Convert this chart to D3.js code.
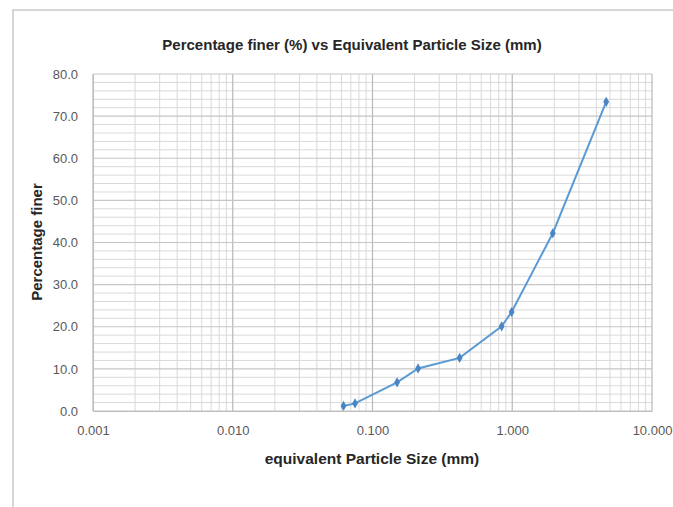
<!DOCTYPE html>
<html><head><meta charset="utf-8">
<script src="https://cdn.jsdelivr.net/npm/d3@7"></script>
<style>
body{margin:0;background:#fff;}
text{font-family:"Liberation Sans",Arial,sans-serif;}
</style></head>
<body><svg id="c" width="673" height="507"></svg>
<script>
const sizes = [0.062, 0.075, 0.15, 0.212, 0.42, 0.84, 0.99, 1.95, 4.7];
const finer = [1.2, 1.8, 6.8, 10.1, 12.6, 20.1, 23.5, 42.2, 73.4];
const xTicks = [0.001, 0.01, 0.1, 1, 10];
const yTicks = [0, 10, 20, 30, 40, 50, 60, 70, 80];
const title = "Percentage finer (%) vs Equivalent  Particle Size (mm)";
const xTitle = "equivalent Particle Size (mm)";
const yTitle = "Percentage finer";

const svg = d3.select("#c");
const m = {l:93, r:652, t:74, b:411};
const x = d3.scaleLog().domain([0.001, 10]).range([m.l, m.r]);
const y = d3.scaleLinear().domain([0, 80]).range([m.b, m.t]);

// outer frame
svg.append("path").attr("d","M13,507 L13,10 L673,10").attr("fill","none").attr("stroke","#c9c9c9").attr("stroke-width",1.5);

// minor grid
const g = svg.append("g");
const minorX = [];
for (let e=-3; e<1; e++) for (let k=2; k<10; k++) minorX.push(k*Math.pow(10,e));
g.selectAll(".mx").data(minorX).join("line")
  .attr("x1",d=>x(d)).attr("x2",d=>x(d)).attr("y1",m.t).attr("y2",m.b)
  .attr("stroke","#d9d9d9").attr("stroke-width",1);
const minorY = d3.range(0, 81, 2).filter(v=>v%10!==0);
g.selectAll(".my").data(minorY).join("line")
  .attr("x1",m.l).attr("x2",m.r).attr("y1",d=>y(d)).attr("y2",d=>y(d))
  .attr("stroke","#d9d9d9").attr("stroke-width",1);
// major grid
g.selectAll(".Mx").data(xTicks).join("line")
  .attr("x1",d=>x(d)).attr("x2",d=>x(d)).attr("y1",m.t).attr("y2",m.b)
  .attr("stroke","#b8b8b8").attr("stroke-width",1.2);
g.selectAll(".My").data(yTicks).join("line")
  .attr("x1",m.l).attr("x2",m.r).attr("y1",d=>y(d)).attr("y2",d=>y(d))
  .attr("stroke","#c6c6c6").attr("stroke-width",1.2);

// axes
const xa = svg.append("g").attr("transform",`translate(0,${m.b})`)
  .call(d3.axisBottom(x).tickValues(xTicks).tickFormat(d3.format(".3f")).tickSize(0).tickPadding(15));
xa.select(".domain").attr("stroke","#bdbdbd");
xa.selectAll("text").attr("fill","#595959").style("font-size","13px");
const ya = svg.append("g").attr("transform",`translate(${m.l},0)`)
  .call(d3.axisLeft(y).tickValues(yTicks).tickFormat(d3.format(".1f")).tickSize(0).tickPadding(15));
ya.select(".domain").attr("stroke","#bdbdbd");
ya.selectAll("text").attr("fill","#595959").style("font-size","13px");

// line
const pts = sizes.map((s,i)=>[s, finer[i]]);
svg.append("path").datum(pts)
  .attr("d", d3.line().x(d=>x(d[0])).y(d=>y(d[1])))
  .attr("fill","none").attr("stroke","#5b9bd5").attr("stroke-width",2);
svg.selectAll(".pt").data(pts).join("path")
  .attr("transform",d=>`translate(${x(d[0])},${y(d[1])})`)
  .attr("d", d3.symbol(d3.symbolDiamond, 30))
  .attr("fill","#4a85c4");

// titles
svg.append("text").attr("x",352).attr("y",50).attr("text-anchor","middle")
  .style("font-size","15px").style("font-weight","bold").attr("fill","#262626").text(title);
svg.append("text").attr("x",372).attr("y",464).attr("text-anchor","middle")
  .style("font-size","15.5px").style("font-weight","bold").attr("fill","#262626").text(xTitle);
svg.append("text").attr("transform","translate(42,242) rotate(-90)").attr("text-anchor","middle")
  .style("font-size","15px").style("font-weight","bold").attr("fill","#262626").text(yTitle);
</script></body></html>
